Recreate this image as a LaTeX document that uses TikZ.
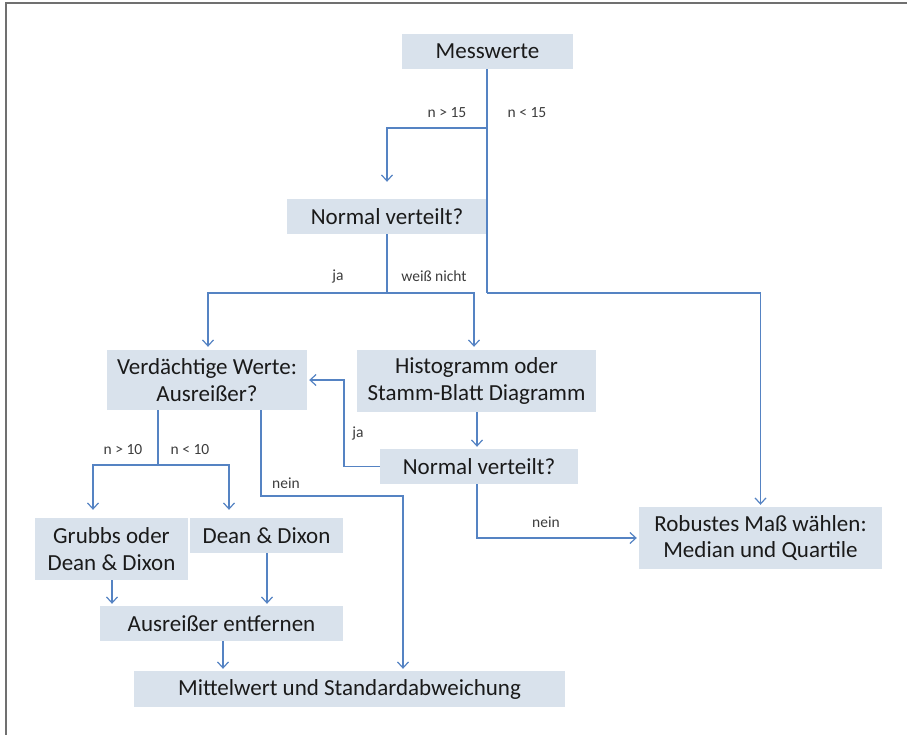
\documentclass[tikz,border=0pt]{standalone}
\usepackage{fontspec}
\setmainfont{Carlito}
\usetikzlibrary{arrows.meta,calc}
\definecolor{boxfill}{HTML}{D9E2EC}
\definecolor{conn}{HTML}{5583C3}
\definecolor{txt}{HTML}{1A1A1A}
\definecolor{frame}{HTML}{707070}
\begin{document}
\begin{tikzpicture}[x=1pt,y=-1pt,
  box/.style={fill=boxfill,inner sep=0pt,align=center,text=txt,
    font=\fontsize{23}{26.5}\selectfont},
  lbl/.style={inner sep=0pt,text=txt!85,font=\fontsize{15.5}{18}\selectfont},
  conline/.style={draw=conn,line width=1.2pt},
  arr/.style={conline,-{Straight Barb[length=6pt,width=11pt]},shorten >=2pt}]
\useasboundingbox (0,0) rectangle (907,735);
% frame (top and left only)
\draw[frame,line width=2pt] (5.5,735) -- (5.5,3.5) -- (907,3.5);

% boxes
\node[box,minimum width=171,minimum height=35] (mw) at (487.5,51.5) {Messwerte};
\node[box,minimum width=200,minimum height=35] (nv1) at (387,216.5) {Normal verteilt?};
\node[box,minimum width=200,minimum height=60] (vw) at (207,380) {Verdächtige Werte:\\Ausreißer?};
\node[box,minimum width=239,minimum height=62] (hg) at (476.5,381) {Histogramm oder\\Stamm-Blatt Diagramm};
\node[box,minimum width=198,minimum height=35] (nv2) at (479,466.5) {Normal verteilt?};
\node[box,minimum width=243,minimum height=62] (rb) at (760.5,538) {Robustes Maß wählen:\\Median und Quartile};
\node[box,minimum width=153,minimum height=62] (gr) at (111.5,549) {Grubbs oder\\Dean \& Dixon};
\node[box,minimum width=153,minimum height=35] (dd) at (266.5,535.5) {Dean \& Dixon};
\node[box,minimum width=243,minimum height=35] (ae) at (221.5,623.5) {Ausreißer entfernen};
\node[box,minimum width=431,minimum height=36] (mv) at (349.5,689) {Mittelwert und Standardabweichung};

% helper coordinates
\coordinate (s1) at (487,128);
\coordinate (s2) at (487,293);
\coordinate (j1) at (387,293);
\coordinate (j2) at (158,465);
\coordinate (xl) at (93,0);
\coordinate (xr) at (229,0);
\coordinate (xh) at (474,0);
\coordinate (n1) at (261,0);
\coordinate (n2) at (403,496);
\coordinate (xg) at (112,0);
\coordinate (xd) at (267,0);
\coordinate (xa) at (223,0);
\coordinate (xj) at (344,0);

% connectors
\draw[conline] (mw.south -| s1) -- (s2);
\draw[arr] (s2) -| (rb.north);
\draw[arr,shorten >=17pt] (s1) -| (nv1.north);
\draw[conline] (nv1.south) -- (j1);
\draw[arr,shorten >=3pt] (j1) -| (vw.north -| 208,0);
\draw[arr,shorten >=3pt] (j1) -| (hg.north -| xh);
\draw[arr] (hg.south -| 477,0) -- (nv2.north -| 477,0);
\draw[arr] (nv2.west) -| (xj |- vw.east) -- (vw.east);
\draw[arr] (nv2.south -| 477,0) |- (rb.west);
\draw[conline] (vw.south -| j2) -- (j2);
\draw[arr,shorten >=8pt] (j2) -| (gr.north -| xl);
\draw[arr,shorten >=8pt] (j2) -| (dd.north -| xr);
\draw[arr] (vw.south -| n1) |- (n2) -- (mv.north -| n2);
\draw[arr] (gr.south -| xg) -- (ae.north -| xg);
\draw[arr] (dd.south -| xd) -- (ae.north -| xd);
\draw[arr] (ae.south -| xa) -- (mv.north -| xa);

% labels
\node[lbl] (l1) at (447,113) {n > 15};
\node[lbl] (l2) at (527,113) {n < 15};
\node[lbl] (l3) at (338,276) {ja};
\node[lbl] (l4) at (434,276) {weiß nicht};
\node[lbl] (l5) at (358,433) {ja};
\node[lbl] (l6) at (123,450) {n > 10};
\node[lbl] (l7) at (190,450) {n < 10};
\node[lbl] (l8) at (286,483) {nein};
\node[lbl] (l9) at (546,522) {nein};
\end{tikzpicture}
\end{document}
